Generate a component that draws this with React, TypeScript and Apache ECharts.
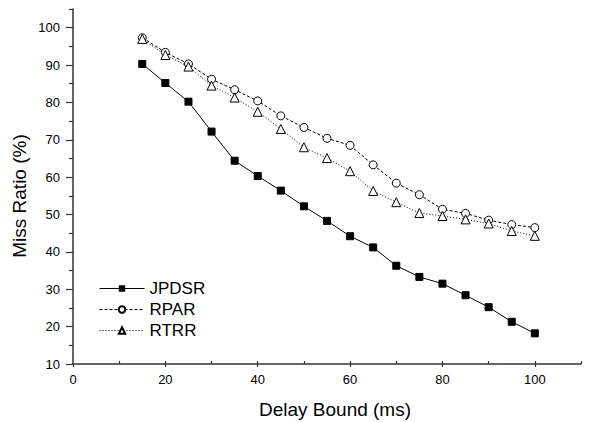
import React, { useEffect, useRef } from "react";
import * as echarts from "echarts";

const delayBounds = [15, 20, 25, 30, 35, 40, 45, 50, 55, 60, 65, 70, 75, 80, 85, 90, 95, 100];
const jpdsr = [90.3, 85.2, 80.2, 72.2, 64.4, 60.3, 56.4, 52.2, 48.3, 44.2, 41.2, 36.3, 33.3, 31.5, 28.4, 25.2, 21.3, 18.2];
const rpar = [97.3, 93.4, 90.3, 86.2, 83.4, 80.4, 76.4, 73.3, 70.4, 68.5, 63.3, 58.4, 55.3, 51.4, 50.3, 48.5, 47.3, 46.5];
const rtrr = [97.0, 92.7, 89.6, 84.5, 81.3, 77.5, 72.9, 68.0, 65.1, 61.6, 56.3, 53.3, 50.4, 49.6, 48.7, 47.6, 45.6, 44.3];

const xLabelValues = [0, 20, 40, 60, 80, 100];
const xInnerTickValues = [10, 20, 30, 40, 50, 60, 70, 80, 90, 100, 110];
const yMajorValues = [10, 20, 30, 40, 50, 60, 70, 80, 90, 100];
const yMinorValues = [15, 25, 35, 45, 55, 65, 75, 85, 95, 105];

const FONT = "'Liberation Sans', Arial, sans-serif";
const AXIS_COLOR = "#333";

export default function App() {
  const ref = useRef<HTMLDivElement>(null);
  useEffect(() => {
    if (!ref.current) return;
    const chart = echarts.init(ref.current, undefined, { renderer: "svg" });
    const pair = (ys: number[]) => delayBounds.map((x, i) => [x, ys[i]]);
    chart.setOption({
      animation: false,
      backgroundColor: "#fff",
      grid: { left: 73, right: 8, top: 9, bottom: 58, containLabel: false },
      xAxis: [
        {
          type: "value",
          min: 0,
          max: 110,
          interval: 20,
          axisLine: { show: true, lineStyle: { color: AXIS_COLOR, width: 1.5 } },
          axisTick: { show: true, inside: false, length: 3, customValues: xLabelValues, lineStyle: { color: AXIS_COLOR, width: 1.2 } },
          axisLabel: { show: true, customValues: xLabelValues, color: "#000", fontSize: 13, fontFamily: FONT, margin: 9 },
          splitLine: { show: false },
        },
        {
          type: "value",
          min: 0,
          max: 110,
          interval: 10,
          position: "bottom",
          axisLine: { show: false },
          axisTick: { show: true, inside: true, length: 3, customValues: xInnerTickValues, lineStyle: { color: AXIS_COLOR, width: 1.2 } },
          axisLabel: { show: false },
          splitLine: { show: false },
        },
      ],
      yAxis: [
        {
          type: "value",
          min: 10,
          max: 105,
          interval: 10,
          axisLine: { show: true, lineStyle: { color: AXIS_COLOR, width: 1.5 } },
          axisTick: { show: true, inside: false, length: 7, customValues: yMajorValues, lineStyle: { color: AXIS_COLOR, width: 1.2 } },
          axisLabel: { show: true, customValues: yMajorValues, color: "#000", fontSize: 13, fontFamily: FONT, margin: 13 },
          splitLine: { show: false },
        },
        {
          type: "value",
          min: 10,
          max: 105,
          interval: 5,
          position: "left",
          axisLine: { show: false },
          axisTick: { show: true, inside: false, length: 4, customValues: yMinorValues, lineStyle: { color: AXIS_COLOR, width: 1.2 } },
          axisLabel: { show: false },
          splitLine: { show: false },
        },
      ],
      legend: {
        orient: "vertical",
        left: 99,
        top: 280,
        padding: 0,
        itemWidth: 45,
        itemHeight: 8,
        itemGap: 4,
        textStyle: { fontSize: 17, lineHeight: 17, fontFamily: FONT, color: "#000" },
        lineStyle: { width: 1 },
        data: ["JPDSR", "RPAR", "RTRR"],
      },
      graphic: [
        {
          type: "text",
          x: 19,
          y: 196,
          rotation: Math.PI / 2,
          style: {
            text: "Miss Ratio (%)",
            fontSize: 19,
            fontFamily: FONT,
            fill: "#000",
            align: "center",
            verticalAlign: "middle",
          },
        },
        {
          type: "text",
          x: 335,
          y: 409,
          style: {
            text: "Delay Bound (ms)",
            fontSize: 19,
            fontFamily: FONT,
            fill: "#000",
            align: "center",
            verticalAlign: "middle",
          },
        },
      ],
      series: [
        {
          name: "JPDSR",
          type: "line",
          data: pair(jpdsr),
          symbol: "rect",
          symbolSize: 7,
          itemStyle: { color: "#000", borderColor: "#000" },
          lineStyle: { color: "#000", width: 1, type: "solid" },
        },
        {
          name: "RPAR",
          type: "line",
          data: pair(rpar),
          symbol: "circle",
          symbolSize: 8,
          itemStyle: { color: "#fff", borderColor: "#000", borderWidth: 1 },
          lineStyle: { color: "#000", width: 1, type: [3, 2] },
        },
        {
          name: "RTRR",
          type: "line",
          data: pair(rtrr),
          symbol: "triangle",
          symbolSize: 9,
          itemStyle: { color: "#fff", borderColor: "#000", borderWidth: 1 },
          lineStyle: { color: "#000", width: 1, type: [1, 2] },
        },
      ],
    });
    return () => chart.dispose();
  }, []);
  return <div ref={ref} style={{ width: 589, height: 422, position: "fixed", left: 0, top: 0 }} />;
}
